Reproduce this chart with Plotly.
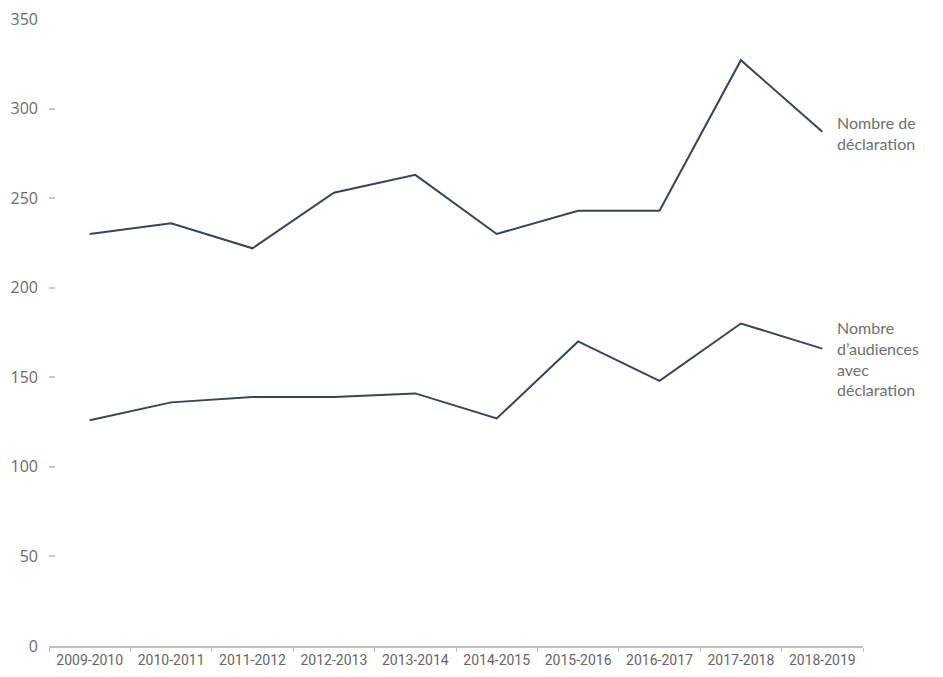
import plotly.graph_objects as go

years = ['2009-2010', '2010-2011', '2011-2012', '2012-2013', '2013-2014',
         '2014-2015', '2015-2016', '2016-2017', '2017-2018', '2018-2019']
declarations = [230, 236, 222, 253, 263, 230, 243, 243, 327, 287]
audiences = [126, 136, 139, 139, 141, 127, 170, 148, 180, 166]

line_color = '#3b4453'
text_gray = '#707070'

fig = go.Figure()
fig.add_trace(go.Scatter(x=years, y=declarations, mode='lines',
                         line=dict(color=line_color, width=2)))
fig.add_trace(go.Scatter(x=years, y=audiences, mode='lines',
                         line=dict(color=line_color, width=2)))

fig.add_annotation(x=years[-1], y=declarations[-1], xref='x', yref='y',
                   text='Nombre de<br>déclaration', showarrow=False,
                   xanchor='left', yanchor='middle', align='left',
                   xshift=13, yshift=-1,
                   font=dict(family='Lato', size=16, color=text_gray))
fig.add_annotation(x=years[-1], y=audiences[-1], xref='x', yref='y',
                   text="Nombre<br>d’audiences<br>avec<br>déclaration", showarrow=False,
                   xanchor='left', yanchor='middle', align='left',
                   xshift=13, yshift=-10,
                   font=dict(family='Lato', size=16, color=text_gray))

# page body has an 8px margin, so the figure is shrunk and shifted to fit
fig.update_layout(
    width=935, height=669,
    margin=dict(l=41, r=80, t=11, b=31),
    plot_bgcolor='white',
    paper_bgcolor='white',
    showlegend=False,
    xaxis=dict(
        type='category',
        range=[-0.5, 9.5],
        automargin=False,
        showline=True, linecolor='#c0c0c0', linewidth=1.5,
        showgrid=False, zeroline=False,
        ticks='outside', ticklen=4, tickcolor='#c0c0c0', tickson='boundaries',
        tickfont=dict(family='Liberation Sans Narrow, Roboto', size=14, color='#666666'),
    ),
    yaxis=dict(
        range=[0, 350],
        automargin=False,
        tickvals=[0, 50, 100, 150, 200, 250, 300, 350],
        showline=False, showgrid=False, zeroline=False,
        ticks='inside', ticklen=6, tickwidth=1.5, tickcolor='#c8c8c8',
        ticklabelstandoff=10,
        ticklabeloverflow='allow',
        tickfont=dict(family='Open Sans', size=16, color='#6b6b6b'),
    ),
)

fig.write_html("out.html")
